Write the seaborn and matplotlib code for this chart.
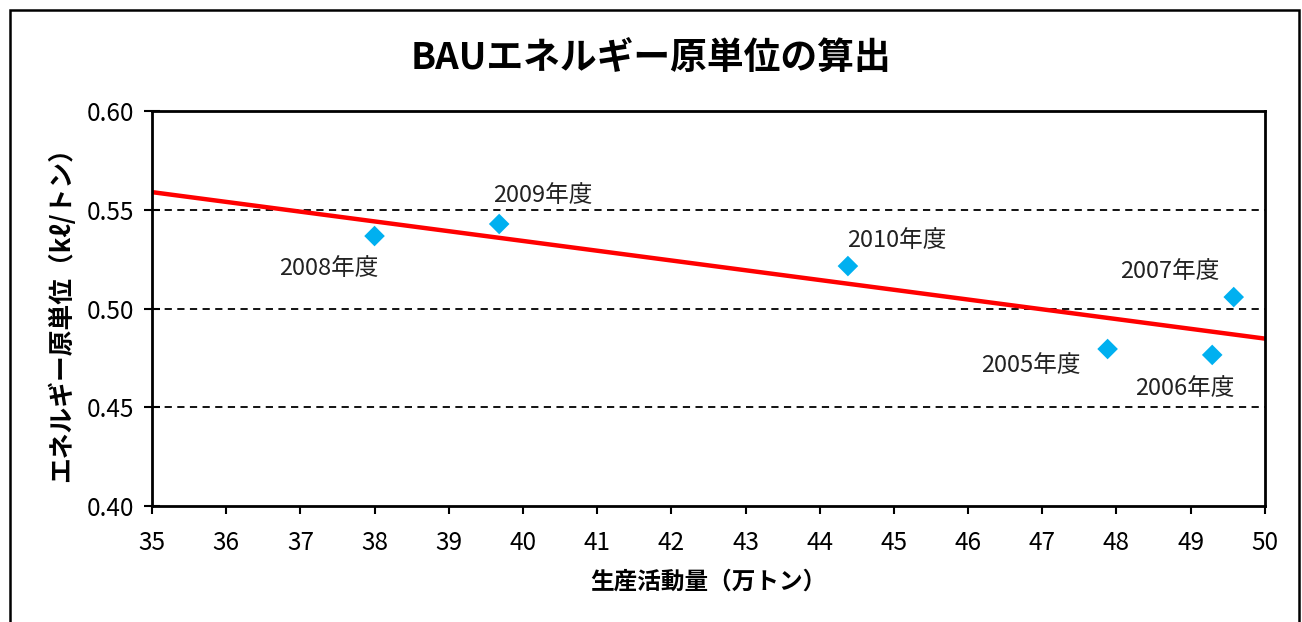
"""
BAUエネルギー原単位の算出
散布図 + 回帰直線
"""

import matplotlib
matplotlib.use("Agg")
import matplotlib.pyplot as plt
from matplotlib.patches import Rectangle
import pandas as pd
import seaborn as sns

# データ
years = ['2005年度', '2006年度', '2007年度', '2008年度', '2009年度', '2010年度']
production = [47.88, 49.29, 49.58, 38.0, 39.68, 44.38]        # 万トン
intensity = [0.4795, 0.4765, 0.5058, 0.5367, 0.5428, 0.5215]  # kℓ/トン

x_ticks = list(range(35, 51))
y_ticks = [0.40, 0.45, 0.50, 0.55, 0.60]

# ラベルの位置 (点からのずれ, px)
label_offsets = {
    '2005年度': (-77, -17),
    '2006年度': (-27, -34),
    '2007年度': (-64, 26),
    '2008年度': (-46, -32),
    '2009年度': (44, 28),
    '2010年度': (49, 26),
}

df = pd.DataFrame({'year': years, 'x': production, 'y': intensity})

sns.set_theme(style='white')
plt.rcParams['font.family'] = ['Noto Sans CJK JP', 'DejaVu Sans']
plt.rcParams['text.color'] = 'black'
plt.rcParams['axes.labelcolor'] = 'black'

fig = plt.figure(figsize=(13.02, 6.22), dpi=100)
ax = fig.add_axes([0.1167, 0.1865, 0.8548, 0.6350])

ax.set_xlim(35, 50)
ax.set_ylim(0.40, 0.60)

sns.regplot(data=df, x='x', y='y', ax=ax, scatter=False, ci=None,
            truncate=False, line_kws={'color': '#FF0000', 'lw': 3.2})
sns.scatterplot(data=df, x='x', y='y', ax=ax, marker='D', s=110,
                color='#00B0F0', edgecolor='none', zorder=4)

for _, row in df.iterrows():
    dx, dy = label_offsets[row['year']]
    ax.annotate(row['year'], (row['x'], row['y']), xytext=(dx, dy),
                textcoords='offset pixels', ha='center', va='center',
                fontsize=17, color='#222222')

# 軸
ax.set_xticks(x_ticks)
ax.set_yticks(y_ticks)
ax.set_yticklabels([f'{v:.2f}' for v in y_ticks])
ax.tick_params(axis='x', direction='out', length=6, width=1.5, pad=11,
               labelsize=17.5, colors='black', bottom=True)
ax.tick_params(axis='y', direction='inout', length=12, width=1.5, pad=7,
               labelsize=17.5, colors='black', left=True)
for s in ax.spines.values():
    s.set_color('black')
    s.set_linewidth(2)

for v in y_ticks[1:-1]:
    ax.axhline(v, color='black', lw=1.3, ls=(0, (4, 3)), zorder=1)

ax.set_xlabel('生産活動量（万トン）', fontsize=17, fontweight='bold', labelpad=10)
ax.set_ylabel('エネルギー原単位（kℓ/トン）', fontsize=18.5, fontweight='bold', labelpad=8)
fig.suptitle('BAUエネルギー原単位の算出', x=0.5, y=0.935, fontsize=26.5,
             fontweight='bold')

# 外枠
fig.add_artist(Rectangle((10 / 1302, -0.1), 1289 / 1302, 1.1 - 10 / 622,
                         transform=fig.transFigure, fill=False,
                         edgecolor='black', lw=1.8))

fig.savefig('out.png', dpi=100)
